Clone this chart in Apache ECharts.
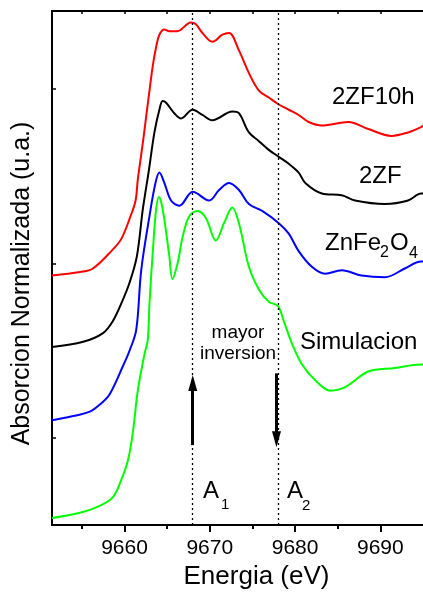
<!DOCTYPE html>
<html>
<head>
<meta charset="utf-8">
<script src="https://cdn.jsdelivr.net/npm/echarts@6/dist/echarts.min.js"></script>
<style>
html,body{margin:0;padding:0;background:#fff;}
#chart{width:423px;height:595px;}
</style>
</head>
<body>
<div id="chart"></div>
<script>
// ---- Data (Energy in eV, normalized absorption offset per curve) ----
const redX = [9651.5, 9654.8, 9656.3, 9658.65, 9659.63, 9660.71, 9661.3, 9661.56, 9662.15, 9662.54, 9662.93, 9663.31, 9663.71, 9664.09, 9664.68, 9665.26, 9665.84, 9666.19, 9667.79, 9668.37, 9669.14, 9670.31, 9671.48, 9672.26, 9673.42, 9674.59, 9675.76, 9676.92, 9678.09, 9679.26, 9680.42, 9681.59, 9683.14, 9686.25, 9688.58, 9691.3, 9693.25, 9694.77, 9695];
const redY = [1.43, 1.45, 1.47, 1.58, 1.64, 1.77, 1.86, 1.98, 2.19, 2.34, 2.49, 2.63, 2.74, 2.81, 2.84, 2.83, 2.83, 2.83, 2.88, 2.87, 2.82, 2.77, 2.81, 2.82, 2.72, 2.59, 2.49, 2.45, 2.41, 2.38, 2.35, 2.31, 2.29, 2.31, 2.27, 2.23, 2.25, 2.28, 2.29];

const blackX = [9651.5, 9655.15, 9657.48, 9658.65, 9659.63, 9660.6, 9661.45, 9662.15, 9662.85, 9663.51, 9664.09, 9664.48, 9664.88, 9665.84, 9666.63, 9667.98, 9669.14, 9670.31, 9672.64, 9673.42, 9674.59, 9675.76, 9676.92, 9678.09, 9679.26, 9680.42, 9681.2, 9683.14, 9685.47, 9687.03, 9690.53, 9693.25, 9694.77, 9695];
const blackY = [1.02, 1.05, 1.10, 1.17, 1.27, 1.39, 1.54, 1.81, 2.03, 2.25, 2.38, 2.43, 2.42, 2.36, 2.33, 2.38, 2.35, 2.32, 2.37, 2.36, 2.25, 2.20, 2.15, 2.11, 2.07, 2.02, 1.96, 1.90, 1.89, 1.86, 1.84, 1.86, 1.90, 1.90];

const blueX = [9651.5, 9653.6, 9655.93, 9657.1, 9658.26, 9659.81, 9660.6, 9661.38, 9661.96, 9662.93, 9663.63, 9664.09, 9664.68, 9665.46, 9666.43, 9668.0, 9669.93, 9671.09, 9672.26, 9673.42, 9674.59, 9676.14, 9678.09, 9679.26, 9680.42, 9681.97, 9683.53, 9685.47, 9687.8, 9690.53, 9692.86, 9694.77, 9695];
const blueY = [0.60, 0.62, 0.65, 0.69, 0.75, 0.91, 1.00, 1.12, 1.46, 1.77, 1.96, 2.02, 1.96, 1.86, 1.83, 1.91, 1.86, 1.92, 1.96, 1.92, 1.84, 1.80, 1.73, 1.67, 1.57, 1.48, 1.44, 1.46, 1.43, 1.42, 1.47, 1.51, 1.51];

const greenX = [9651.5, 9654.77, 9657.1, 9658.65, 9659.63, 9660.4, 9660.98, 9661.56, 9662.35, 9662.73, 9662.93, 9663.31, 9663.71, 9664.04, 9664.48, 9665.26, 9665.61, 9666.23, 9666.81, 9667.59, 9668.56, 9669.54, 9670.71, 9671.67, 9672.64, 9673.42, 9674.59, 9675.76, 9676.92, 9678.0, 9678.67, 9679.64, 9680.81, 9682.37, 9684.12, 9685.87, 9688.58, 9691.7, 9694.77, 9695];
const greenY = [0.04, 0.07, 0.11, 0.16, 0.26, 0.37, 0.53, 0.77, 0.98, 1.06, 1.27, 1.56, 1.81, 1.88, 1.81, 1.54, 1.41, 1.50, 1.65, 1.77, 1.80, 1.76, 1.63, 1.73, 1.82, 1.73, 1.48, 1.35, 1.28, 1.255, 1.17, 1.04, 0.92, 0.83, 0.77, 0.79, 0.88, 0.90, 0.92, 0.92];

const xTickLabels = [9660, 9670, 9680, 9690];
const xMinorTicks = [9655, 9665, 9675, 9685];
const xTopTicks = [9655, 9660, 9665, 9670, 9675, 9680, 9685, 9690];
const yTicks = [0.5, 1.5, 2.5];
const markerLines = [9668, 9678];           // A1, A2 energies
const arrowUp = [[9668, 0.458], [9668, 0.814]];
const arrowDown = [[9677.82, 0.869], [9677.82, 0.492]];

const seriesNames = ['2ZF10h', '2ZF', 'ZnFe2O4', 'Simulacion'];

// ---- Chart ----
const FONT = '"Liberation Sans", Arial, Helvetica, sans-serif';
const zip = (xs, ys) => xs.map((x, i) => [x, ys[i]]);
const X_MIN = 9651.5, X_MAX = 9695, Y_MIN = 0, Y_MAX = 2.946;
const axisLineStyle = { color: '#000', width: 2 };
const ARROW_HEAD = 'path://M5,0L10,16L0,16Z';

const chart = echarts.init(document.getElementById('chart'), null, { renderer: 'canvas' });

function lineSeries(name, xs, ys, color, extra) {
  return Object.assign({
    name: name,
    type: 'line',
    xAxisIndex: 0,
    yAxisIndex: 0,
    data: zip(xs, ys),
    showSymbol: false,
    smooth: 0.35,
    lineStyle: { color: color, width: 2 },
    itemStyle: { color: color },
    animation: false,
    silent: true
  }, extra || {});
}

const option = {
  backgroundColor: '#fff',
  animation: false,
  textStyle: { fontFamily: FONT },
  grid: [
    { left: 52, top: 11, right: -2, bottom: 70 },
    { left: 52, top: 11, right: -2, bottom: 70 }
  ],
  xAxis: [
    {
      type: 'value', gridIndex: 0, position: 'bottom', min: X_MIN, max: X_MAX,
      axisLine: { show: true, lineStyle: axisLineStyle },
      axisTick: { show: true, customValues: xTickLabels, length: 7, lineStyle: { color: '#000', width: 2 } },
      axisLabel: { show: true, customValues: xTickLabels, fontSize: 21, color: '#000', margin: 13, fontFamily: FONT,
                   formatter: v => String(Math.round(v)) },
      splitLine: { show: false },
      name: 'Energia (eV)', nameLocation: 'middle', nameGap: 38,
      nameTextStyle: { fontSize: 26, color: '#000', fontFamily: FONT, padding: [0, 0, 0, 38] }
    },
    {
      type: 'value', gridIndex: 0, position: 'top', min: X_MIN, max: X_MAX,
      axisLine: { show: true, lineStyle: axisLineStyle },
      axisTick: { show: true, inside: true, customValues: xTopTicks, length: 3, lineStyle: { color: '#000', width: 1.5 } },
      axisLabel: { show: false },
      splitLine: { show: false }
    },
    {
      type: 'value', gridIndex: 1, position: 'bottom', min: X_MIN, max: X_MAX,
      axisLine: { show: false },
      axisTick: { show: true, customValues: xMinorTicks, length: 4, lineStyle: { color: '#000', width: 2 } },
      axisLabel: { show: false },
      splitLine: { show: false }
    }
  ],
  yAxis: [
    {
      type: 'value', gridIndex: 0, min: Y_MIN, max: Y_MAX,
      axisLine: { show: true, lineStyle: axisLineStyle },
      axisTick: { show: true, inside: true, customValues: yTicks, length: 4, lineStyle: { color: '#000', width: 1.5 } },
      axisLabel: { show: false },
      splitLine: { show: false },
      name: 'Absorcion Normalizada (u.a.)', nameLocation: 'middle', nameGap: 17,
      nameTextStyle: { fontSize: 25, color: '#000', fontFamily: FONT, padding: [0, 31, 0, 0] }
    },
    { type: 'value', gridIndex: 1, min: Y_MIN, max: Y_MAX, show: false }
  ],
  series: [
    lineSeries(seriesNames[0], redX, redY, '#ff0000'),
    lineSeries(seriesNames[1], blackX, blackY, '#000000', {
      markLine: {
        silent: true, animation: false,
        symbol: ['none', ARROW_HEAD],
        symbolSize: 16,
        label: { show: false },
        lineStyle: { color: '#000', width: 3, type: 'solid' },
        data: [
          [{ coord: arrowUp[0], symbol: 'none' }, { coord: arrowUp[1], symbol: ARROW_HEAD, symbolSize: [9, 16] }],
          [{ coord: arrowDown[0], symbol: 'none' }, { coord: arrowDown[1], symbol: ARROW_HEAD, symbolSize: [9, 16] }]
        ]
      }
    }),
    lineSeries(seriesNames[2], blueX, blueY, '#0000ff', {
      markLine: {
        silent: true, animation: false,
        symbol: ['none', 'none'],
        label: { show: false },
        lineStyle: { color: '#000', width: 1.3, type: [2, 3] },
        data: markerLines.map(v => ({ xAxis: v }))
      }
    }),
    lineSeries(seriesNames[3], greenX, greenY, '#00ff00')
  ],
  graphic: [
    { type: 'text', x: 332, y: 97, style: { text: '2ZF10h', font: '24px ' + FONT, fill: '#000', textAlign: 'left', textVerticalAlign: 'middle' } },
    { type: 'text', x: 359, y: 176, style: { text: '2ZF', font: '24px ' + FONT, fill: '#000', textAlign: 'left', textVerticalAlign: 'middle' } },
    { type: 'text', x: 325, y: 243, style: { text: 'ZnFe', font: '24px ' + FONT, fill: '#000', textAlign: 'left', textVerticalAlign: 'middle' } },
    { type: 'text', x: 380, y: 253, style: { text: '2', font: '16px ' + FONT, fill: '#000', textAlign: 'left', textVerticalAlign: 'middle' } },
    { type: 'text', x: 390, y: 243, style: { text: 'O', font: '24px ' + FONT, fill: '#000', textAlign: 'left', textVerticalAlign: 'middle' } },
    { type: 'text', x: 409, y: 254, style: { text: '4', font: '16px ' + FONT, fill: '#000', textAlign: 'left', textVerticalAlign: 'middle' } },
    { type: 'text', x: 300, y: 342, style: { text: 'Simulacion', font: '24px ' + FONT, fill: '#000', textAlign: 'left', textVerticalAlign: 'middle' } },
    { type: 'text', x: 238, y: 333, style: { text: 'mayor', font: '19px ' + FONT, fill: '#000', textAlign: 'center', textVerticalAlign: 'middle' } },
    { type: 'text', x: 238, y: 354, style: { text: 'inversion', font: '19px ' + FONT, fill: '#000', textAlign: 'center', textVerticalAlign: 'middle' } },
    { type: 'text', x: 203, y: 491, style: { text: 'A', font: '24px ' + FONT, fill: '#000', textAlign: 'left', textVerticalAlign: 'middle' } },
    { type: 'text', x: 221, y: 505, style: { text: '1', font: '15px ' + FONT, fill: '#000', textAlign: 'left', textVerticalAlign: 'middle' } },
    { type: 'text', x: 287, y: 491, style: { text: 'A', font: '24px ' + FONT, fill: '#000', textAlign: 'left', textVerticalAlign: 'middle' } },
    { type: 'text', x: 302, y: 506, style: { text: '2', font: '15px ' + FONT, fill: '#000', textAlign: 'left', textVerticalAlign: 'middle' } }
  ]
};

chart.setOption(option);
</script>
</body>
</html>
